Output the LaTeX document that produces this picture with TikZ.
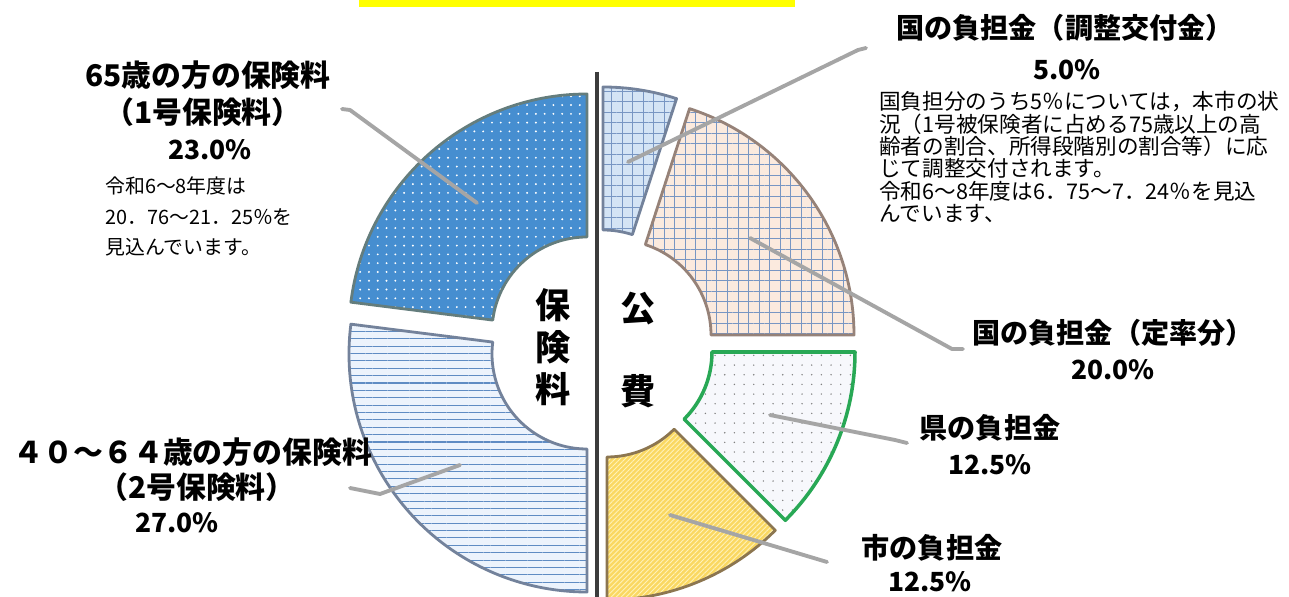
\documentclass[tikz,border=0pt]{standalone}
\usepackage{fontspec}
\setmainfont{Noto Sans CJK JP}
\usepackage{tikz}
\usetikzlibrary{patterns.meta}

\definecolor{baryellow}{RGB}{255,255,0}
\definecolor{hokenblue}{RGB}{70,142,208}
\definecolor{bdteal}{RGB}{100,125,125}
\definecolor{stripefill}{RGB}{236,243,252}
\definecolor{stripeline}{RGB}{95,140,195}
\definecolor{bdblue}{RGB}{115,130,155}
\definecolor{chouseifill}{RGB}{212,228,245}
\definecolor{gridblue}{RGB}{120,150,195}
\definecolor{teiritsufill}{RGB}{251,234,222}
\definecolor{bdbrown}{RGB}{150,130,120}
\definecolor{kenfill}{RGB}{247,248,252}
\definecolor{kengreen}{RGB}{40,168,85}
\definecolor{shifill}{RGB}{250,216,98}
\definecolor{shihatch}{RGB}{255,242,185}
\definecolor{bdshi}{RGB}{140,118,80}
\definecolor{leadgray}{RGB}{165,165,165}
\definecolor{divgray}{RGB}{60,60,60}

\tikzset{
  slice/.style={line width=1.6pt, line join=round},
  leader/.style={line width=2.2pt, draw=leadgray, line cap=round, line join=round},
  biglab/.style={font=\bfseries\fontsize{16}{18}\selectfont, inner sep=1pt},
  sidelab/.style={font=\bfseries\fontsize{17}{19}\selectfont, inner sep=1pt},
  pct/.style={font=\bfseries\fontsize{15}{17}\selectfont, inner sep=1pt},
  midlab/.style={font=\bfseries\fontsize{20}{24}\selectfont, align=center, inner sep=0pt},
}

\begin{document}
\begin{tikzpicture}[x=0.02cm,y=0.02cm]
\useasboundingbox (0,0) rectangle (1289,-597);
\fill[white] (0,0) rectangle (1289,-597);

\fill[baryellow] (359,0) rectangle (795,-7);

\draw[slice, draw=bdblue, preaction={fill=chouseifill}, pattern={Hatch[angle=0, distance=6pt, line width=0.45pt]}, pattern color=gridblue]
  (603,-325) ++(90:95) arc[start angle=90, end angle=72, radius=95] -- ++(72:143) arc[start angle=72, end angle=90, radius=238] -- cycle;
\draw[slice, draw=bdbrown, preaction={fill=teiritsufill}, pattern={Hatch[angle=0, distance=6pt, line width=0.45pt]}, pattern color=gridblue]
  (616,-335) ++(72:95) arc[start angle=72, end angle=0, radius=95] -- ++(0:143) arc[start angle=0, end angle=72, radius=238] -- cycle;
\draw[slice, draw=kengreen, line width=2pt, preaction={fill=kenfill}, pattern={Dots[radius=0.45pt, distance=5.5pt]}, pattern color=gray]
  (617,-352) ++(0:95) arc[start angle=0, end angle=-45, radius=95] -- ++(-45:143) arc[start angle=-45, end angle=0, radius=238] -- cycle;
\draw[slice, draw=bdshi, preaction={fill=shifill}, pattern={Lines[angle=45, distance=2pt, line width=0.5pt]}, pattern color=shihatch]
  (607,-362) ++(-45:95) arc[start angle=-45, end angle=-90, radius=95] -- ++(-90:143) arc[start angle=-90, end angle=-45, radius=238] -- cycle;
\draw[slice, draw=bdblue, preaction={fill=stripefill}, pattern={Lines[angle=0, distance=4.2pt, line width=0.6pt]}, pattern color=stripeline]
  (587,-354) ++(270:95) arc[start angle=270, end angle=172.8, radius=95] -- ++(172.8:143) arc[start angle=172.8, end angle=270, radius=238] -- cycle;
\draw[slice, draw=bdteal, preaction={fill=hokenblue}, pattern={Dots[radius=0.6pt, distance=5pt]}, pattern color=white]
  (587,-332) ++(172.8:95) arc[start angle=172.8, end angle=90, radius=95] -- ++(90:143) arc[start angle=90, end angle=172.8, radius=238] -- cycle;

\draw[line width=2.8pt, draw=divgray] (597,-72) -- (597,-600);

\node[midlab] (hoken) at (553,-347) {保\\険\\料};
\node[midlab, font=\bfseries\fontsize{20}{47.6}\selectfont] (kouhi) at (638,-350) {公\\費};

\node[biglab] (chousei) at (1065,-28) {国の負担金（調整交付金）};
\node[pct] (chouseipct) at (1067,-70) {5.0\%};
\node[anchor=north west, align=left, inner sep=0pt, font=\fontsize{12.3}{12.75}\selectfont] (chouseinote) at (879,-91)
  {国負担分のうち5％については，本市の状\\況（1号被保険者に占める75歳以上の高\\齢者の割合、所得段階別の割合等）に応\\じて調整交付されます。\\令和6～8年度は6．75～7．24％を見込\\んでいます、};

\node[biglab] (teiritsu) at (1113,-333) {国の負担金（定率分）};
\node[pct] (teiritsupct) at (1113,-370) {20.0\%};
\node[biglab] (ken) at (990,-428) {県の負担金};
\node[pct] (kenpct) at (990,-465) {12.5\%};
\node[biglab] (shi) at (932,-548) {市の負担金};
\node[pct] (shipct) at (930,-582) {12.5\%};

\node[sidelab] (dai1) at (208,-75) {65歳の方の保険料};
\node[sidelab] (dai1b) at (203,-112) {（1号保険料）};
\node[pct] (dai1pct) at (210,-150) {23.0\%};
\node[anchor=north west, align=left, inner sep=0pt, font=\fontsize{11.3}{17.6}\selectfont] (dai1note) at (105,-176)
  {令和6～8年度は\\20．76～21．25％を\\見込んでいます。};

\node[sidelab] (dai2) at (193,-452) {４０～６４歳の方の保険料};
\node[sidelab] (dai2b) at (197,-487) {（2号保険料）};
\node[pct] (dai2pct) at (177,-523) {27.0\%};

\coordinate (in1) at (477,-203);
\coordinate (out1) at (342,-109);
\coordinate (in2) at (460,-465);
\coordinate (out2) at (350,-488);
\coordinate (inchousei) at (628,-162);
\coordinate (outchousei) at (866,-48);
\coordinate (inteiritsu) at (750,-238);
\coordinate (outteiritsu) at (963,-349);
\coordinate (inken) at (770,-415);
\coordinate (outken) at (907,-443);
\coordinate (inshi) at (670,-515);
\coordinate (outshi) at (827,-562);

\draw[leader] (out1) -- ++(8,-1) -- (in1);
\draw[leader] (out2) -- ++(30,-6) -- (in2);
\draw[leader] (inchousei) -- ++(230,112) -- (outchousei);
\draw[leader] (inteiritsu) -- ++(202,-111) -- (outteiritsu);
\draw[leader] (inken) -- ++(125,-25) -- (outken);
\draw[leader] (inshi) -- (outshi);
\end{tikzpicture}
\end{document}
